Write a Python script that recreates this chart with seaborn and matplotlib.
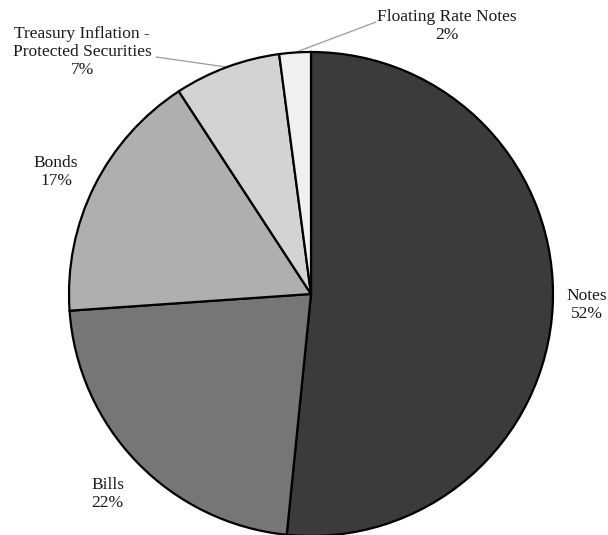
import numpy as np
import matplotlib
matplotlib.use("Agg")
import matplotlib.pyplot as plt
import seaborn as sns

# Composition of marketable Treasury securities outstanding
categories = ["Notes", "Bills", "Bonds",
              "Treasury Inflation -\nProtected Securities", "Floating Rate Notes"]
shares = [51.6, 22.3, 16.9, 7.1, 2.1]
colors = ["#3b3b3b", "#767676", "#afafaf", "#d3d3d3", "#f0f0f0"]

sns.set_theme(style="white")
plt.rcParams["font.family"] = ["Liberation Serif", "DejaVu Serif"]

W, H = 608, 535
fig = plt.figure(figsize=(W / 100, H / 100), dpi=100)
ax = fig.add_axes([0, 0, 1, 1])

# pie geometry in pixels
cx, cy, R = 311, 294, 242


def to_data(px, py):
    return (px - cx) / R, (cy - py) / R


wedges, _ = ax.pie(shares, colors=colors, startangle=90, counterclock=False,
                   radius=1.0, center=(0, 0),
                   wedgeprops=dict(edgecolor="black", linewidth=1.6))
ax.set_xlim(-cx / R, (W - cx) / R)
ax.set_ylim(-(H - cy) / R, cy / R)
ax.set_aspect("auto")
ax.set_axis_off()

labels = [f"{c}\n{v:.0f}%" for c, v in zip(categories, shares)]
label_px = [(607, 305), (91, 494), (56, 172), (82, 52), (447, 26)]
aligns = ["right", "left", "center", "center", "center"]

for lab, (px, py), ha in zip(labels, label_px, aligns):
    x, y = to_data(px, py)
    ax.text(x, y, lab, ha=ha, va="center", multialignment="center",
            fontsize=12.5, linespacing=1.2, color="#1a1a1a")

# leader lines for the two thin slices
anchors = {3: (156, 57), 4: (376, 22)}
for idx, (px, py) in anchors.items():
    w = wedges[idx]
    mid = np.deg2rad((w.theta1 + w.theta2) / 2)
    ex, ey = np.cos(mid), np.sin(mid)
    x0, y0 = to_data(px, py)
    ax.plot([x0, ex], [y0, ey], color="#9a9a9a", lw=0.9, zorder=0.5)

fig.savefig("out.png", dpi=100)
